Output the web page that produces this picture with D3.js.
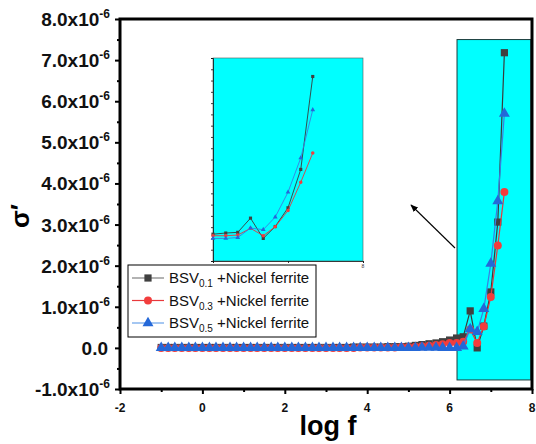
<!DOCTYPE html>
<html>
<head>
<meta charset="utf-8">
<title>sigma' vs log f</title>
<style>
  body { margin: 0; background: #fff; }
  text { font-family: "Liberation Sans", Arial, sans-serif; }
</style>
</head>
<body>
<script src="https://d3js.org/d3.v7.min.js"></script>
<script>
// log f values (x)
var logF = [-1.00,-0.83,-0.67,-0.50,-0.33,-0.17,0.00,0.17,0.33,0.50,0.67,0.83,
            1.00,1.17,1.33,1.50,1.67,1.83,2.00,2.17,2.33,2.50,2.67,2.83,
            3.00,3.17,3.33,3.50,3.67,3.83,4.00,4.17,4.33,4.50,4.67,4.83,
            5.00,5.17,5.33,5.50,5.67,5.83,6.00,6.17,6.33,6.50,6.67,6.83,
            7.00,7.17,7.33];

// sigma' in units of 1e-6
var bsv01 = [0.01,0.01,0.01,0.01,0.01,0.01,0.01,0.01,0.01,0.01,0.01,0.01,
             0.01,0.01,0.01,0.01,0.01,0.01,0.01,0.01,0.01,0.01,0.01,0.01,
             0.01,0.01,0.01,0.01,0.02,0.02,0.02,0.02,0.02,0.03,0.03,0.03,
             0.04,0.06,0.08,0.10,0.12,0.15,0.19,0.24,0.27,0.90,0.00,0.53,
             1.36,3.06,7.18];
var bsv03 = [0.00,0.00,0.00,0.00,0.00,0.00,0.00,0.00,0.00,0.00,0.00,0.00,
             0.00,0.00,0.00,0.00,0.00,0.00,0.00,0.00,0.00,0.00,0.00,0.00,
             0.00,0.00,0.00,0.00,0.00,0.01,0.01,0.01,0.01,0.01,0.01,0.02,
             0.02,0.03,0.04,0.05,0.07,0.09,0.12,0.12,0.15,0.45,0.12,0.52,
             1.24,2.49,3.79];
var bsv05 = [0.00,0.00,0.00,0.00,0.00,0.00,0.00,0.00,0.00,0.00,0.00,0.00,
             0.00,0.00,0.00,0.00,0.00,0.00,0.00,0.00,0.00,0.00,0.00,0.00,
             0.00,0.00,0.00,0.00,0.00,0.00,0.00,0.00,0.00,0.00,0.00,0.00,
             0.00,0.00,0.01,0.01,0.01,0.00,0.00,0.00,0.04,0.46,0.39,0.95,
             2.05,3.57,5.70];

var seriesNames = ["0.1", "0.3", "0.5"];
var yTicks = [-1,0,1,2,3,4,5,6,7,8];
var xTicks = [-2,0,2,4,6,8];

var W = 536, H = 444;
var m = {left: 120, right: 532, top: 19, bottom: 389};

var svg = d3.select("body").append("svg").attr("width", W).attr("height", H);

var x = d3.scaleLinear().domain([-2, 8]).range([m.left, m.right]);
var y = d3.scaleLinear().domain([-1, 8]).range([m.bottom, m.top]);

var series = [
  {vals: bsv01, shape: d3.symbolSquare, size: 52, fill: "#404040", line: "#3a3a3a", legLine: "#808080"},
  {vals: bsv03, shape: d3.symbolCircle, size: 50, fill: "#f23d3d", line: "#e8393c", legLine: "#e8393c"},
  {vals: bsv05, shape: d3.symbolTriangle, size: 52, fill: "#2468d8", line: "#3a7fe0", legLine: "#6aa2ea"}
];

// highlighted region (cyan box)
svg.append("rect")
  .attr("x", x(6.18)).attr("y", y(7.5))
  .attr("width", x(7.97) - x(6.18)).attr("height", y(-0.78) - y(7.5))
  .attr("fill", "#00ffff").attr("stroke", "#1c3c3c").attr("stroke-width", 1);

// inset
var ins = {left: 213, right: 363, top: 58, bottom: 261};
var ix = d3.scaleLinear().domain([6, 8]).range([ins.left, ins.right]);
var iy = d3.scaleLinear().domain([-1, 8]).range([ins.bottom, ins.top]);
var gi = svg.append("g");
gi.append("rect").attr("x", ins.left).attr("y", ins.top)
  .attr("width", ins.right - ins.left).attr("height", ins.bottom - ins.top)
  .attr("fill", "#00ffff").attr("stroke", "#555").attr("stroke-width", 0.6);
gi.append("g").attr("transform", "translate(" + ins.left + ",0)")
  .call(d3.axisLeft(iy).tickValues(d3.range(-1, 8.01, 0.5)).tickSize(2).tickFormat(""))
  .call(function(g){ g.selectAll("path,line").attr("stroke", "#111").attr("stroke-width", 0.8); });
gi.append("g").attr("transform", "translate(0," + ins.bottom + ")")
  .call(d3.axisBottom(ix).tickValues([6, 7, 8]).tickSize(2).tickFormat(""))
  .call(function(g){ g.selectAll("path,line").attr("stroke", "#111").attr("stroke-width", 0.8); });
gi.append("text").attr("x", ins.right).attr("y", 268).attr("text-anchor", "middle")
  .attr("font-size", 5).attr("fill", "#333").text("8");

series.forEach(function(s) {
  var pts = logF.map(function(v, i){ return [v, s.vals[i]]; }).filter(function(p){ return p[0] >= 6; });
  gi.append("path").datum(pts)
    .attr("d", d3.line().x(function(p){ return ix(p[0]); }).y(function(p){ return iy(p[1]); }))
    .attr("fill", "none").attr("stroke", s.line).attr("stroke-width", 0.9);
  gi.selectAll(null).data(pts).enter().append("path")
    .attr("transform", function(p){ return "translate(" + ix(p[0]) + "," + iy(p[1]) + ")"; })
    .attr("d", d3.symbol().type(s.shape).size(10))
    .attr("fill", s.fill);
});

// arrow
svg.append("defs").append("marker").attr("id", "ah")
  .attr("viewBox", "0 0 10 10").attr("refX", 9).attr("refY", 5)
  .attr("markerWidth", 7).attr("markerHeight", 7).attr("orient", "auto")
  .append("path").attr("d", "M0,1 L10,5 L0,9 Z").attr("fill", "#000");
svg.append("line").attr("x1", 455).attr("y1", 248).attr("x2", 411).attr("y2", 205)
  .attr("stroke", "#000").attr("stroke-width", 1.1).attr("marker-end", "url(#ah)");

// main series
series.forEach(function(s) {
  var pts = logF.map(function(v, i){ return [v, s.vals[i]]; });
  svg.append("path").datum(pts)
    .attr("d", d3.line().x(function(p){ return x(p[0]); }).y(function(p){ return y(p[1]); }))
    .attr("fill", "none").attr("stroke", s.line).attr("stroke-width", 1.2);
  svg.selectAll(null).data(pts).enter().append("path")
    .attr("transform", function(p){ return "translate(" + x(p[0]) + "," + y(p[1]) + ")"; })
    .attr("d", d3.symbol().type(s.shape).size(s.size))
    .attr("fill", s.fill);
});

// frame + axes
svg.append("rect").attr("x", m.left).attr("y", m.top)
  .attr("width", m.right - m.left).attr("height", m.bottom - m.top)
  .attr("fill", "none").attr("stroke", "#000").attr("stroke-width", 3);

var yAx = svg.append("g").attr("transform", "translate(" + m.left + ",0)")
  .call(d3.axisLeft(y).tickValues(d3.range(-1, 8.01, 0.5)).tickSize(4).tickFormat(""));
yAx.select(".domain").remove();
yAx.selectAll("line").attr("stroke", "#000").attr("stroke-width", 2)
  .attr("x2", function(d){ return Number.isInteger(d) ? -5 : -3; });

var xAx = svg.append("g").attr("transform", "translate(0," + m.bottom + ")")
  .call(d3.axisBottom(x).tickValues(d3.range(-2, 8.01, 1)).tickSize(4).tickFormat(""));
xAx.select(".domain").remove();
xAx.selectAll("line").attr("stroke", "#000").attr("stroke-width", 2)
  .attr("y2", function(d){ return d % 2 === 0 ? 5 : 3; });

// y tick labels
yTicks.forEach(function(t) {
  var tx = svg.append("text").attr("x", 110).attr("y", y(t) + 7)
    .attr("text-anchor", "end").attr("font-weight", "bold").attr("font-size", 19).attr("fill", "#111");
  if (t === 0) {
    tx.attr("x", 108).text("0.0");
  } else {
    tx.append("tspan").text(t.toFixed(1) + "x10");
    tx.append("tspan").attr("font-size", 12).attr("dy", -8).text("-6");
  }
});

// x tick labels
xTicks.forEach(function(t) {
  svg.append("text").attr("x", x(t)).attr("y", 412).attr("text-anchor", "middle")
    .attr("font-weight", "bold").attr("font-size", 12).attr("fill", "#111").text(t);
});

// axis titles
svg.append("text").attr("x", 328).attr("y", 435).attr("text-anchor", "middle")
  .attr("font-weight", "bold").attr("font-size", 27).text("log f");
svg.append("text").attr("transform", "translate(29,216) rotate(-90)").attr("text-anchor", "middle")
  .attr("font-weight", "bold").attr("font-size", 26).text("σ′");

// legend
var lg = svg.append("g");
lg.append("rect").attr("x", 128).attr("y", 265).attr("width", 188).attr("height", 72)
  .attr("fill", "none").attr("stroke", "#000").attr("stroke-width", 1);
series.forEach(function(s, i) {
  var ly = 278 + i * 22.5;
  lg.append("line").attr("x1", 132).attr("x2", 164).attr("y1", ly).attr("y2", ly)
    .attr("stroke", s.legLine).attr("stroke-width", 1.2);
  lg.append("path").attr("transform", "translate(148," + ly + ")")
    .attr("d", d3.symbol().type(s.shape).size(s.size)).attr("fill", s.fill);
  var t = lg.append("text").attr("x", 169).attr("y", ly + 5).attr("font-size", 15).attr("fill", "#111");
  t.append("tspan").text("BSV");
  t.append("tspan").attr("font-size", 10).attr("dy", 4).text(seriesNames[i]);
  t.append("tspan").attr("dy", -4).text(" +Nickel ferrite");
});
</script>
</body>
</html>
